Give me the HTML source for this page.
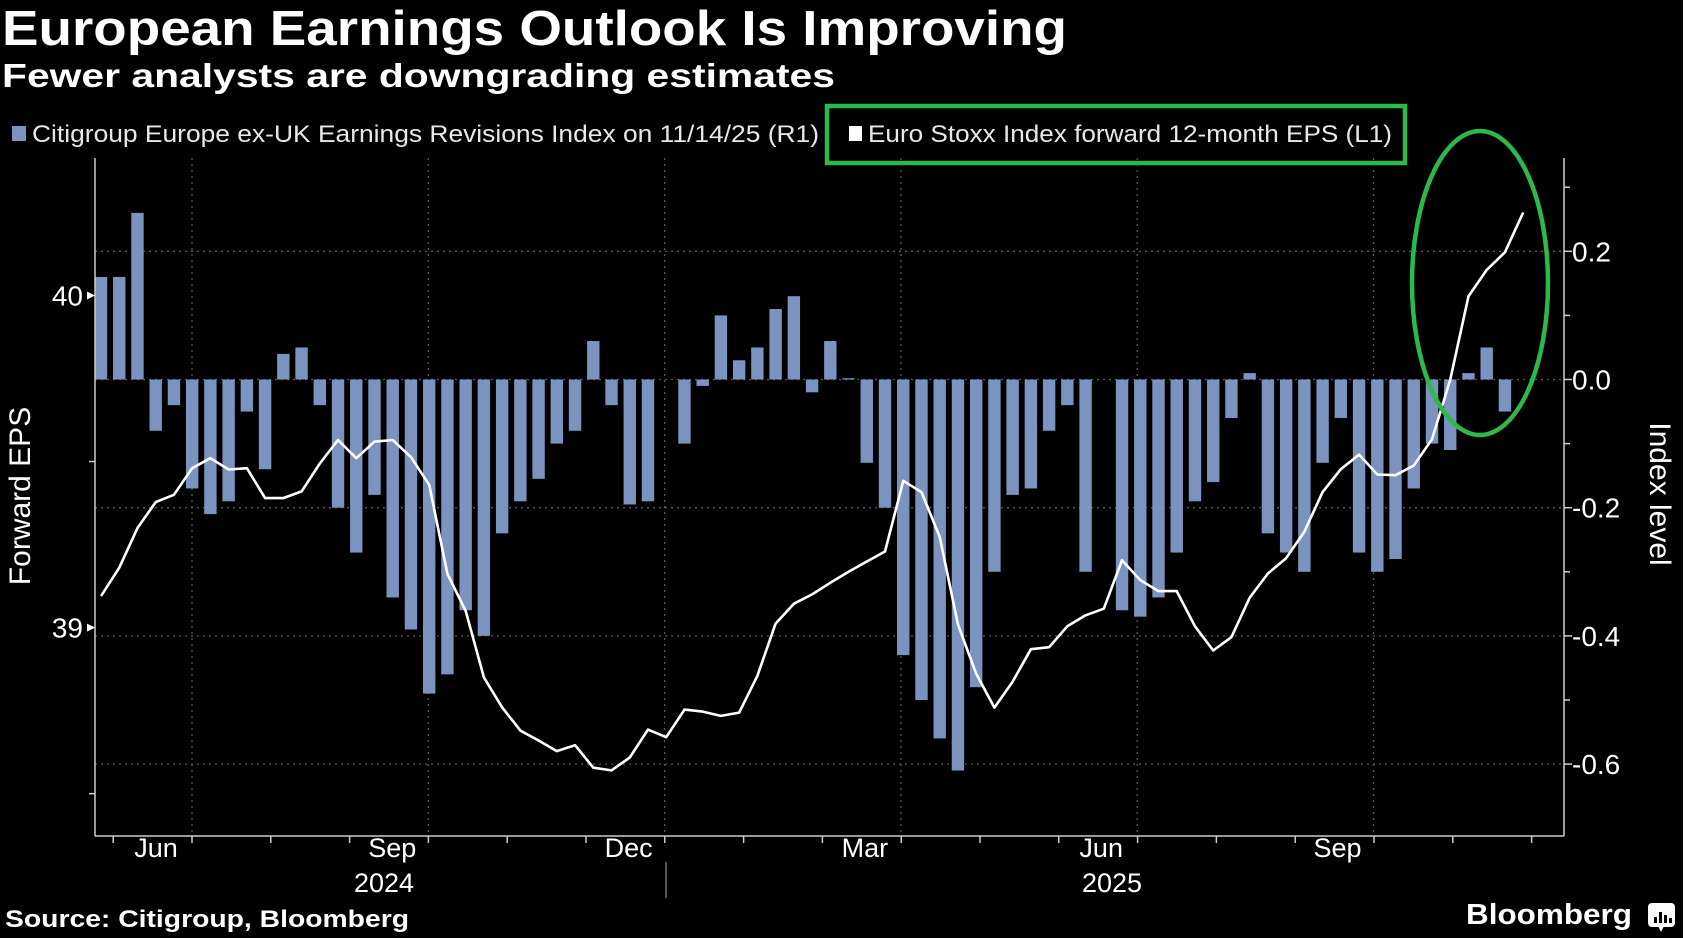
<!DOCTYPE html>
<html><head><meta charset="utf-8">
<style>
html,body{margin:0;padding:0;background:#000;}
svg{display:block;}
text{font-family:"Liberation Sans",sans-serif;}
</style></head>
<body>
<svg id="chart" width="1685" height="938" viewBox="0 0 1685 938" xmlns="http://www.w3.org/2000/svg">
<rect x="0" y="0" width="1685" height="938" fill="#000"/>
<rect x="1683" y="0" width="2" height="938" fill="#fff"/>
<text x="2" y="45" font-size="49" font-weight="bold" fill="#fff" textLength="1065" lengthAdjust="spacingAndGlyphs">European Earnings Outlook Is Improving</text>
<text x="2" y="87" font-size="33" font-weight="bold" fill="#fff" textLength="833" lengthAdjust="spacingAndGlyphs">Fewer analysts are downgrading estimates</text>
<g>
 <g>
  <rect x="12" y="126" width="14" height="15" fill="#7a93bf"/>
  <text x="32" y="142" font-size="24" fill="#e8e8e8" textLength="787" lengthAdjust="spacingAndGlyphs">Citigroup Europe ex-UK Earnings Revisions Index on 11/14/25 (R1)</text>
 </g>
 <g>
  <rect x="849" y="126" width="13" height="15" fill="#fff"/>
  <text x="868" y="142" font-size="24" fill="#e8e8e8" textLength="524" lengthAdjust="spacingAndGlyphs">Euro Stoxx Index forward 12-month EPS (L1)</text>
 </g>
 <rect x="827" y="106" width="578" height="57" fill="none" stroke="#2db84a" stroke-width="4.5"/>
</g>
<g id="grid"></g>
<g id="bars"></g>
<g id="line"></g>
<g id="axes"></g>
<ellipse cx="1480" cy="283" rx="68" ry="152" fill="none" stroke="#2db84a" stroke-width="4.5"/>
<text transform="translate(30,496) rotate(-90)" text-anchor="middle" font-size="30" fill="#fff">Forward EPS</text>
<text transform="translate(1650,494) rotate(90)" text-anchor="middle" font-size="30" fill="#fff">Index level</text>
<text x="5" y="927" font-size="24" font-weight="bold" fill="#fff" textLength="404" lengthAdjust="spacingAndGlyphs">Source: Citigroup, Bloomberg</text>
<text x="1466" y="924" font-size="29" font-weight="bold" fill="#fff" textLength="166" lengthAdjust="spacingAndGlyphs">Bloomberg</text>
<g>
 <rect x="1648" y="903" width="27" height="24" rx="4" fill="#fff"/>
 <polygon points="1658,926 1664,926 1661,932" fill="#fff"/>
 <rect x="1654" y="917" width="3" height="6" fill="#000"/>
 <rect x="1659" y="912" width="3" height="11" fill="#000"/>
 <rect x="1664" y="915" width="3" height="8" fill="#000"/>
 <rect x="1669" y="918" width="3" height="5" fill="#000"/>
</g>
</svg>
<script>
const barValues = [0.16,0.16,0.26,-0.08,-0.04,-0.17,-0.21,-0.19,-0.05,-0.14,0.04,0.05,-0.04,-0.20,-0.27,-0.18,-0.34,-0.39,-0.49,-0.46,-0.36,-0.40,-0.24,-0.19,-0.155,-0.10,-0.08,0.06,-0.04,-0.195,-0.19,0,-0.10,-0.01,0.10,0.03,0.05,0.11,0.13,-0.02,0.06,0.002,-0.13,-0.20,-0.43,-0.50,-0.56,-0.61,-0.48,-0.30,-0.18,-0.17,-0.08,-0.04,-0.30,0,-0.36,-0.37,-0.34,-0.27,-0.19,-0.16,-0.06,0.01,-0.24,-0.27,-0.30,-0.13,-0.06,-0.27,-0.30,-0.28,-0.17,-0.10,-0.11,0.01,0.05,-0.05];
const epsValues = [39.095,39.18,39.30,39.378,39.40,39.48,39.51,39.476,39.48,39.39,39.39,39.41,39.494,39.565,39.51,39.56,39.565,39.513,39.43,39.162,39.05,38.85,38.76,38.69,38.66,38.628,38.646,38.578,38.570,38.609,38.693,38.670,38.753,38.747,38.734,38.744,38.855,39.012,39.072,39.10,39.135,39.168,39.199,39.229,39.442,39.408,39.273,39.009,38.861,38.759,38.837,38.935,38.941,39.004,39.037,39.057,39.203,39.143,39.110,39.110,39.004,38.931,38.971,39.090,39.163,39.209,39.289,39.408,39.477,39.521,39.461,39.459,39.488,39.567,39.746,39.998,40.077,40.130,40.250];
const rightTicks = [0.2,0.0,-0.2,-0.4,-0.6];
const rightTickLabels = ["0.2","0.0","-0.2","-0.4","-0.6"];
const rightMinorTicks = [0.3,0.1,-0.1,-0.3,-0.5];
const leftTicks = [40,39];
const leftTickLabels = ["40","39"];
const leftMinorTicks = [39.5,38.5];
const monthLabels = ["Jun","Sep","Dec","Mar","Jun","Sep"];
const yearLabels = ["2024","2025"];

const NS="http://www.w3.org/2000/svg";
const X0=95, X1=1564, YB=836, YT=158;
function xIdx(i){return 101+18.233*i;}
function yR(v){return 379.5-641*v;}
function yL(v){return 295.5+(40-v)*332.1;}
function quarterX(q){return 192+236.3*q;}
function mk(tag,attrs,parent){const e=document.createElementNS(NS,tag);for(const k in attrs)e.setAttribute(k,attrs[k]);parent.appendChild(e);return e;}
const grid=document.getElementById('grid'),bars=document.getElementById('bars'),line=document.getElementById('line'),axes=document.getElementById('axes');

rightTicks.forEach(v=>{
 const g=mk('line',{x1:X0,x2:X1,y1:yR(v),y2:yR(v),stroke:'#5a5a5a','stroke-width':1.3,'stroke-dasharray':'2,4'},grid);
 
 
});
for(let q=0;q<6;q++){
 const g=mk('line',{x1:quarterX(q),x2:quarterX(q),y1:YT,y2:YB,stroke:'#5a5a5a','stroke-width':1.3,'stroke-dasharray':'2,4'},grid);
 
 
}
barValues.forEach((v,i)=>{
 if(v===0)return;
 const y0=yR(0),y1=yR(v);
 const r=mk('rect',{x:xIdx(i)-6.2,width:12.4,y:Math.min(y0,y1),height:Math.max(1,Math.abs(y1-y0)),fill:'#7a93bf'},bars);
 
 
});
const pts=epsValues.map((v,i)=>xIdx(i).toFixed(1)+','+yL(v).toFixed(1)).join(' ');
const pl=mk('polyline',{points:pts,fill:'none',stroke:'#fff','stroke-width':2.6,'stroke-linejoin':'round'},line);



mk('line',{x1:X0,x2:X0,y1:YT,y2:YB,stroke:'#ccc','stroke-width':1.5},axes);
mk('line',{x1:X1,x2:X1,y1:YT,y2:YB,stroke:'#ccc','stroke-width':1.5},axes);
mk('line',{x1:X0,x2:X1,y1:YB,y2:YB,stroke:'#ccc','stroke-width':1.5},axes);
rightTicks.forEach((v,i)=>{
 mk('line',{x1:X1,x2:X1+8,y1:yR(v),y2:yR(v),stroke:'#ccc','stroke-width':1.5},axes);
 const t=mk('text',{x:X1+8,y:yR(v)+10,'font-size':28,fill:'#fff'},axes);
 t.textContent=rightTickLabels[i];
 
 
});
rightMinorTicks.forEach(v=>{mk('line',{x1:X1,x2:X1+6,y1:yR(v),y2:yR(v),stroke:'#ccc','stroke-width':1.5},axes);});
leftTicks.forEach((v,i)=>{
 mk('polygon',{points:`${X0},${yL(v)} ${X0-8},${yL(v)-4} ${X0-8},${yL(v)+4}`,fill:'#fff'},axes);
 const t=mk('text',{x:X0-12,y:yL(v)+10,'font-size':28,fill:'#fff','text-anchor':'end'},axes);
 t.textContent=leftTickLabels[i];
 
 
});
leftMinorTicks.forEach(v=>{mk('line',{x1:X0-6,x2:X0,y1:yL(v),y2:yL(v),stroke:'#ccc','stroke-width':1.5},axes);});
for(let m=-1;m<18;m++){
 const x=quarterX(0)+78.8*m;
 if(x<X0||x>X1)continue;
 mk('line',{x1:x,x2:x,y1:YB,y2:YB+7,stroke:'#ccc','stroke-width':1.5},axes);
}
monthLabels.forEach((s,i)=>{
 const t=mk('text',{x:quarterX(i)-36,y:857,'font-size':27,fill:'#fff','text-anchor':'middle'},axes);
 t.textContent=s;
 
 
});
yearLabels.forEach((s,i)=>{
 const t=mk('text',{x:[384,1112][i],y:892,'font-size':27,fill:'#fff','text-anchor':'middle'},axes);
 t.textContent=s;
 
 
});
mk('line',{x1:666,x2:666,y1:862,y2:898,stroke:'#888','stroke-width':1.3},axes);
</script>
</body></html>
